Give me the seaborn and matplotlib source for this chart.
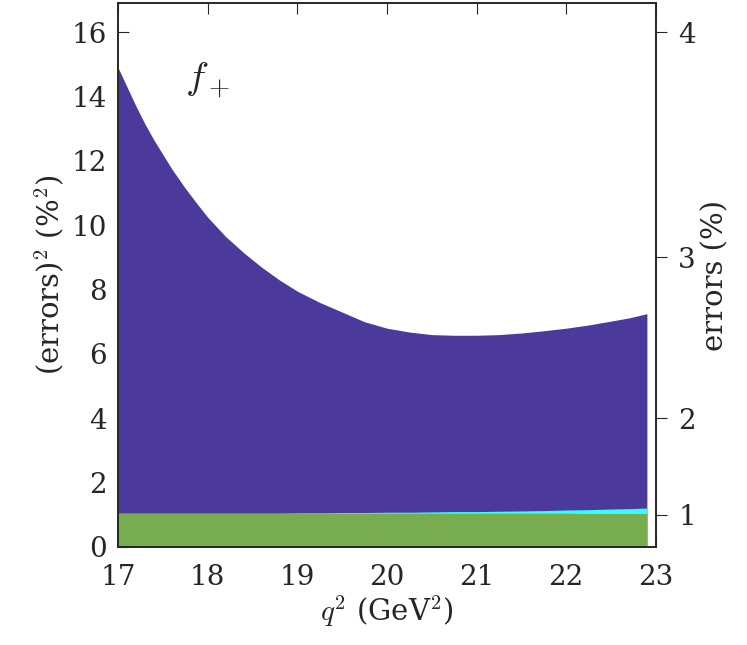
import matplotlib
matplotlib.use("Agg")
import matplotlib.pyplot as plt
import seaborn as sns
import numpy as np

sns.set_style("ticks")
plt.rcParams['font.family'] = ['DejaVu Serif']
plt.rcParams['mathtext.fontset'] = 'cm'

q2 = [17.0, 17.1, 17.2, 17.3, 17.4, 17.5, 17.6, 17.75, 17.9, 18.0, 18.2, 18.4, 18.6, 18.8, 19.0, 19.25, 19.5, 19.75, 20.0, 20.25, 20.5, 20.75, 21.0, 21.25, 21.5, 21.75, 22.0, 22.25, 22.5, 22.7, 22.9]
total = [14.9, 14.3, 13.7, 13.15, 12.65, 12.2, 11.75, 11.15, 10.6, 10.25, 9.65, 9.15, 8.7, 8.3, 7.95, 7.6, 7.3, 7.0, 6.8, 6.68, 6.6, 6.58, 6.58, 6.6, 6.65, 6.72, 6.8, 6.9, 7.02, 7.12, 7.25]
cyan_top = [1.05]*14 + [1.06, 1.06, 1.07, 1.07, 1.08, 1.08, 1.09, 1.1, 1.1, 1.11, 1.12, 1.13, 1.15, 1.16, 1.18, 1.19, 1.21]
green = [1.05]*26 + [1.05, 1.04, 1.04, 1.04, 1.04]

fig = plt.figure(figsize=(7.47, 6.45), dpi=100)
ax = fig.add_axes([0.158, 0.152, 0.72, 0.843])
ax.fill_between(q2, 0, total, color='#4b3a9b', lw=0)
ax.fill_between(q2, 0, cyan_top, color='#33ffff', lw=0)
ax.fill_between(q2, 0, green, color='#77ac50', lw=0)
ax.set_xlim(17, 23)
ax.set_ylim(0, 16.9)
ax.set_xticks([17, 18, 19, 20, 21, 22, 23])
ax.set_yticks([0, 2, 4, 6, 8, 10, 12, 14, 16])
ax.tick_params(labelsize=20, direction='in', length=8, top=True)
ax.tick_params(axis='x', pad=12)
ax.tick_params(axis='y', pad=8)
ax.set_xlabel(r'$q^2$ (GeV$^2$)', fontsize=21, labelpad=2)
ax.set_ylabel(r'(errors)$^2$ (%$^2$)', fontsize=21)
ax.text(17.75, 14.2, r'$f_+$', fontsize=28)
ax2 = ax.twinx()
ax2.set_ylim(0, 16.9)
ax2.set_yticks([1, 4, 9, 16])
ax2.set_yticklabels(['1', '2', '3', '4'])
ax2.tick_params(labelsize=20, direction='out', length=8, pad=8)
ax2.set_ylabel('errors (%)', fontsize=21)
for a in (ax, ax2):
    for s in a.spines.values():
        s.set_linewidth(1.2)
fig.savefig('out.png', dpi=100)
